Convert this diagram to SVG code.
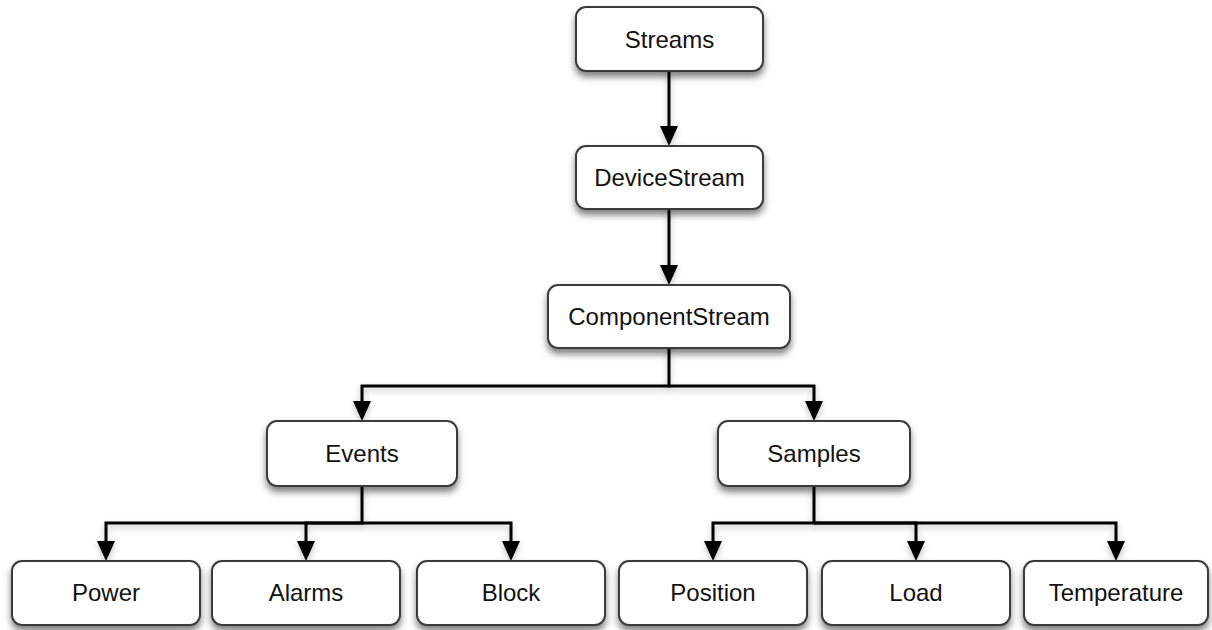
<svg xmlns="http://www.w3.org/2000/svg" width="1212" height="630" viewBox="0 0 1212 630">
<defs>
<filter id="sh" x="-10%" y="-20%" width="120%" height="160%">
<feDropShadow dx="0" dy="5" stdDeviation="3.5" flood-color="#000" flood-opacity="0.5"/>
</filter>
<filter id="lsh" x="-20%" y="-20%" width="140%" height="140%">
<feDropShadow dx="0" dy="3" stdDeviation="3" flood-color="#000" flood-opacity="0.25"/>
</filter>
<marker id="arr" viewBox="0 0 20 18" refX="0" refY="9" markerWidth="20" markerHeight="18" markerUnits="userSpaceOnUse" orient="auto">
<path d="M0,0 L20,9 L0,18 z" fill="#000"/>
</marker>
</defs>
<style>
.box{fill:#fff;stroke:#3a3a3a;stroke-width:2;filter:url(#sh)}
.lbl{font-family:"Liberation Sans",Arial,sans-serif;font-size:24px;fill:#111;text-anchor:middle}
.c{fill:none;stroke:#000;stroke-width:3;marker-end:url(#arr)}
</style>
<rect width="1212" height="630" fill="#fff"/>
<g id="connectors" filter="url(#lsh)">
<path class="c" d="M669,71 V126"/>
<path class="c" d="M669,209 V265"/>
<path class="c" d="M669,348 V386 H362 V401"/>
<path class="c" d="M669,386 H814 V401"/>
<path class="c" d="M362,486 V523 H106 V541"/>
<path class="c" d="M362,523 H306 V541"/>
<path class="c" d="M362,523 H511 V541"/>
<path class="c" d="M814,486 V523 H713 V541"/>
<path class="c" d="M814,523 H916 V541"/>
<path class="c" d="M814,523 H1116 V541"/>
</g>
<g id="streams"><rect class="box" x="576" y="7" width="187" height="64" rx="10"/><text class="lbl" x="669.5" y="48">Streams</text></g>
<g id="devicestream"><rect class="box" x="576" y="146" width="187" height="63" rx="10"/><text class="lbl" x="669.5" y="186">DeviceStream</text></g>
<g id="componentstream"><rect class="box" x="548" y="285" width="242" height="63" rx="10"/><text class="lbl" x="669" y="325">ComponentStream</text></g>
<g id="events"><rect class="box" x="267" y="421" width="190" height="65" rx="10"/><text class="lbl" x="362" y="462">Events</text></g>
<g id="samples"><rect class="box" x="718" y="421" width="192" height="65" rx="10"/><text class="lbl" x="814" y="462">Samples</text></g>
<g id="power"><rect class="box" x="12" y="561" width="188" height="64" rx="10"/><text class="lbl" x="106" y="601">Power</text></g>
<g id="alarms"><rect class="box" x="212" y="561" width="188" height="64" rx="10"/><text class="lbl" x="306" y="601">Alarms</text></g>
<g id="block"><rect class="box" x="417" y="561" width="188" height="64" rx="10"/><text class="lbl" x="511" y="601">Block</text></g>
<g id="position"><rect class="box" x="619" y="561" width="188" height="64" rx="10"/><text class="lbl" x="713" y="601">Position</text></g>
<g id="load"><rect class="box" x="822" y="561" width="188" height="64" rx="10"/><text class="lbl" x="916" y="601">Load</text></g>
<g id="temperature"><rect class="box" x="1024" y="561" width="184" height="64" rx="10"/><text class="lbl" x="1116" y="601">Temperature</text></g>
</svg>
